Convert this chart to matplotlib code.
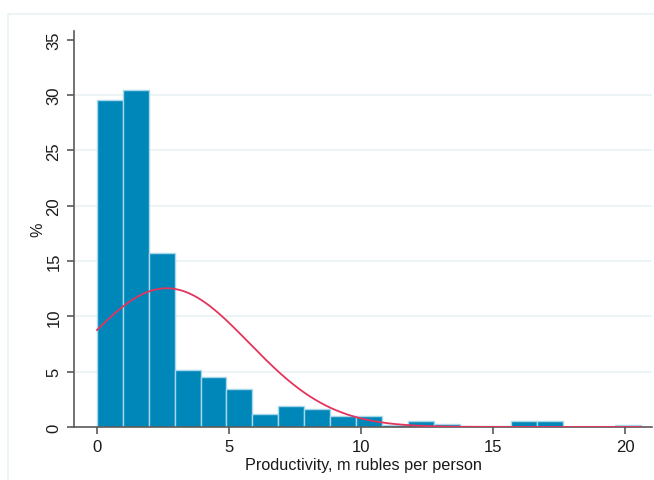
import numpy as np
import matplotlib.pyplot as plt
from matplotlib.patches import Rectangle

# ==========================================
# DATA
# ==========================================

bin_start = 0.0
bin_width = 0.981

percent = [
    29.57, 30.44, 15.7, 5.18, 4.55, 3.43, 1.21, 1.9, 1.66, 1.0, 1.0,
    0.15, 0.54, 0.3, 0.13, 0.13, 0.54, 0.54, 0.0, 0.0, 0.15
]

# normal density overlay
norm_mean = 2.64
norm_sd = 3.12

x_ticks = [0, 5, 10, 15, 20]
y_ticks = [0, 5, 10, 15, 20, 25, 30, 35]

# ==========================================
# THEME
# ==========================================

BAR = "#0087BA"
BAR_EDGE = "#A8D8EA"
CURVE = "#E5345C"
GRID = "#EAF2F3"
AXIS = "#5A5A5A"
TEXT = "#1A1A1A"

plt.rcParams["font.family"] = ["Liberation Sans", "DejaVu Sans"]

# ==========================================
# CHART
# ==========================================

fig = plt.figure(figsize=(6.54, 4.81), dpi=100, facecolor="white")

W, H = 654, 481
ax = fig.add_axes([74 / W, (H - 428) / H, (652 - 74) / W, (428 - 32) / H])

fig.patches.append(
    Rectangle(
        (8 / W, -0.1), 1.1, (H - 15) / H + 0.1,
        transform=fig.transFigure,
        fill=False, edgecolor=GRID, linewidth=1.2, clip_on=False
    )
)

edges = bin_start + bin_width * np.arange(len(percent))

ax.bar(
    edges, percent, width=bin_width, align="edge",
    color=BAR, edgecolor=BAR_EDGE, linewidth=1.0, zorder=2
)

x_max = edges[-1] + bin_width
xs = np.linspace(bin_start, x_max, 400)
density = np.exp(-0.5 * ((xs - norm_mean) / norm_sd) ** 2) / (norm_sd * np.sqrt(2 * np.pi))
ax.plot(xs, density * bin_width * 100, color=CURVE, linewidth=1.3, zorder=3)

# ==========================================
# AXIS STYLE
# ==========================================

ax.set_xlim(-0.87, 21.02)
ax.set_ylim(0, 35.8)

ax.set_xticks(x_ticks)
ax.set_yticks(y_ticks)
ax.set_yticklabels([str(t) for t in y_ticks], rotation=90, va="center")

for t in y_ticks[1:-1]:
    ax.axhline(t, color=GRID, linewidth=1.2, zorder=1)

ax.tick_params(axis="both", colors=AXIS, length=5, width=1.2,
               labelsize=12, labelcolor=TEXT, pad=4)

ax.spines["top"].set_visible(False)
ax.spines["right"].set_visible(False)
ax.spines["left"].set_color(AXIS)
ax.spines["bottom"].set_color(AXIS)
ax.spines["left"].set_linewidth(1.2)
ax.spines["bottom"].set_linewidth(1.2)

ax.set_xlabel("Productivity, m rubles per person", fontsize=11.7, color=TEXT, labelpad=2)
ax.set_ylabel("%", fontsize=11.7, color=TEXT, labelpad=1)

plt.savefig("out.png", dpi=100, facecolor="white")
plt.close()
